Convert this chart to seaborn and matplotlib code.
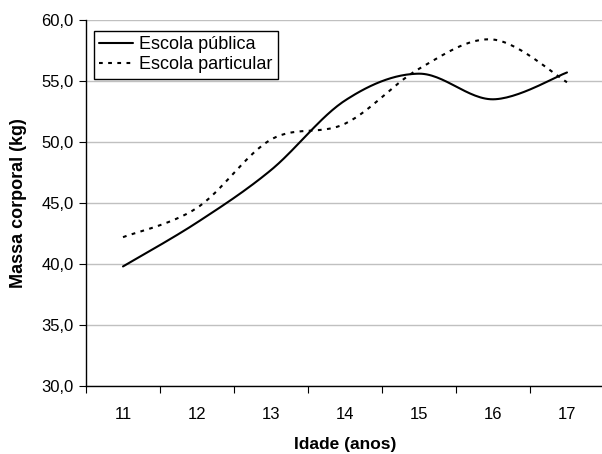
import numpy as np
import pandas as pd
import matplotlib
matplotlib.use('Agg')
import matplotlib.pyplot as plt
import seaborn as sns

sns.set_style('white')
plt.rcParams['font.family'] = ['Liberation Sans', 'DejaVu Sans']
plt.rcParams['text.color'] = 'black'
plt.rcParams['axes.labelcolor'] = 'black'
plt.rcParams['xtick.color'] = 'black'
plt.rcParams['ytick.color'] = 'black'

idades = ['11', '12', '13', '14', '15', '16', '17']
publica = [39.8, 43.4, 47.7, 53.4, 55.6, 53.5, 55.7]
particular = [42.2, 44.6, 50.2, 51.5, 56.0, 58.4, 54.9]
series_names = ['Escola pública', 'Escola particular']


def smooth(values, n=30):
    # Excel-like smoothed line (Bezier through the points)
    p = np.column_stack([np.arange(len(values)), values]).astype(float)
    ext = np.vstack([p[0], p, p[-1]])
    out = []
    for i in range(len(p) - 1):
        p0, p1, p2, p3 = ext[i], ext[i + 1], ext[i + 2], ext[i + 3]
        c1 = p1 + (p2 - p0) / 6
        c2 = p2 - (p3 - p1) / 6
        t = np.linspace(0, 1, n)[:, None]
        seg = ((1 - t) ** 3) * p1 + 3 * ((1 - t) ** 2) * t * c1 + 3 * (1 - t) * t ** 2 * c2 + t ** 3 * p2
        out.append(seg if i == 0 else seg[1:])
    return np.vstack(out)


fig = plt.figure(figsize=(6.02, 4.54), dpi=100)
ax = fig.add_axes([86 / 602, 68 / 454, 518 / 602, 366 / 454])

frames = []
for name, vals in zip(series_names, [publica, particular]):
    s = smooth(vals)
    frames.append(pd.DataFrame({'x': s[:, 0], 'y': s[:, 1], 'serie': name}))
df = pd.concat(frames, ignore_index=True)

sns.lineplot(data=df, x='x', y='y', style='serie', units='serie', estimator=None, sort=False,
             dashes={'Escola pública': '', 'Escola particular': (1.8, 2.6)},
             color='black', linewidth=1.5, ax=ax, legend=False)

ax.set_xlim(-0.5, len(idades) - 0.5)
ax.set_ylim(30, 60)
ax.set_yticks(np.arange(30, 61, 5))
ax.set_yticklabels([f'{v:.1f}'.replace('.', ',') for v in np.arange(30, 61, 5)], fontsize=12)
ax.set_xticks(np.arange(len(idades)))
ax.set_xticklabels(idades, fontsize=12)
ax.set_xticks(np.arange(-0.5, len(idades)), minor=True)
ax.tick_params(axis='x', which='major', length=0, pad=15, bottom=True)
ax.tick_params(axis='x', which='minor', length=5, width=0.8, direction='out', bottom=True)
ax.tick_params(axis='y', length=5, width=0.8, direction='out', pad=4, left=True)

ax.yaxis.grid(True, color='#c0c0c0', linewidth=1)
ax.xaxis.grid(False)
for side in ['top', 'right']:
    ax.spines[side].set_visible(False)
for side in ['left', 'bottom']:
    ax.spines[side].set_color('black')
    ax.spines[side].set_linewidth(1)

ax.set_xlabel('Idade (anos)', fontsize=12.5, fontweight='bold', labelpad=11)
ax.set_ylabel('Massa corporal (kg)', fontsize=13, fontweight='bold', labelpad=10)

lines = ax.get_lines()
leg = ax.legend(lines[:2], series_names, loc='upper left', bbox_to_anchor=(0.015, 0.97),
                fontsize=13, frameon=True, fancybox=False, edgecolor='black', framealpha=1,
                handlelength=1.9, handletextpad=0.3, borderpad=0.3, labelspacing=0.15,
                borderaxespad=0.0)
leg.get_frame().set_linewidth(1)

fig.savefig('out.png', dpi=100)
